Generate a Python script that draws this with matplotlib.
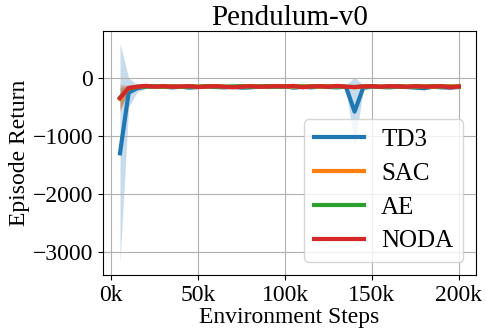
import numpy as np
import matplotlib
matplotlib.use("Agg")
import matplotlib.pyplot as plt

plt.rcParams['font.family'] = ['Liberation Serif', 'DejaVu Serif']

steps = np.arange(5000, 200001, 5000)

td3 = [-1300, -250, -175, -150, -145, -150, -160, -150, -165, -155,
       -150, -155, -160, -150, -165, -160, -150, -155, -150, -145,
       -165, -150, -160, -150, -155, -160, -150, -580, -165, -150,
       -155, -160, -150, -155, -165, -175, -150, -160, -165, -155]
td3_std = [1900, 250, 60, 30, 25, 25, 30, 25, 25, 25,
           25, 25, 25, 25, 25, 25, 25, 25, 25, 25,
           30, 25, 25, 25, 25, 25, 25, 600, 40, 25,
           25, 25, 25, 25, 25, 30, 25, 25, 25, 25]
sac = [-360, -180, -150, -140, -145, -150, -145, -150, -140, -150,
       -145, -140, -150, -155, -145, -140, -150, -145, -140, -145,
       -150, -140, -145, -150, -140, -145, -150, -160, -145, -140,
       -150, -145, -140, -150, -145, -140, -150, -145, -140, -150]
sac_std = [200, 40, 20, 15, 15, 15, 15, 15, 15, 15,
           15, 15, 15, 15, 15, 15, 15, 15, 15, 15,
           15, 15, 15, 15, 15, 15, 15, 20, 15, 15,
           15, 15, 15, 15, 15, 15, 15, 15, 15, 15]
ae = [-340, -175, -150, -145, -140, -150, -145, -150, -145, -150,
      -140, -145, -150, -145, -140, -150, -145, -140, -150, -145,
      -140, -150, -145, -140, -150, -145, -150, -155, -145, -140,
      -150, -145, -140, -150, -145, -150, -140, -145, -150, -145]
ae_std = [180, 35, 20, 15, 15, 15, 15, 15, 15, 15,
          15, 15, 15, 15, 15, 15, 15, 15, 15, 15,
          15, 15, 15, 15, 15, 15, 15, 20, 15, 15,
          15, 15, 15, 15, 15, 15, 15, 15, 15, 15]
noda = [-345, -170, -150, -135, -150, -140, -150, -145, -140, -155,
        -145, -140, -150, -160, -150, -140, -150, -145, -140, -145,
        -135, -160, -145, -140, -150, -135, -150, -155, -145, -140,
        -150, -140, -145, -150, -140, -150, -145, -140, -160, -145]
noda_std = [240, 40, 20, 15, 15, 15, 15, 15, 15, 15,
            15, 15, 15, 15, 15, 15, 15, 15, 15, 15,
            15, 15, 15, 15, 15, 15, 15, 20, 15, 15,
            15, 15, 15, 15, 15, 15, 15, 15, 15, 15]

series = [("TD3", td3, td3_std, "#1f77b4"),
          ("SAC", sac, sac_std, "#ff7f0e"),
          ("AE", ae, ae_std, "#2ca02c"),
          ("NODA", noda, noda_std, "#d62728")]

fig, ax = plt.subplots(figsize=(4.86, 3.28), dpi=100)
for name, mean, std, c in series:
    mean = np.array(mean)
    std = np.array(std)
    ax.plot(steps, mean, color=c, lw=3, label=name)
    ax.fill_between(steps, mean - std, mean + std, color=c, alpha=0.25, lw=0)

ax.set_xticks([0, 50000, 100000, 150000, 200000])
ax.set_xticklabels(["0k", "50k", "100k", "150k", "200k"])
ax.set_yticks([0, -1000, -2000, -3000])
ax.set_yticklabels(["0", "\u22121000", "\u22122000", "\u22123000"])
ax.set_ylim(-3400, 810)
ax.tick_params(labelsize=17)
ax.grid(True)
ax.set_title("Pendulum-v0", fontsize=21, pad=3)
ax.set_xlabel("Environment Steps", fontsize=17, labelpad=1)
ax.set_ylabel("Episode Return", fontsize=17, labelpad=2)
ax.legend(loc="lower right", fontsize=18, handlelength=2.0,
          handletextpad=0.7, labelspacing=0.45)

fig.subplots_adjust(left=0.212, right=0.979, top=0.905, bottom=0.162)
fig.savefig("out.png")
